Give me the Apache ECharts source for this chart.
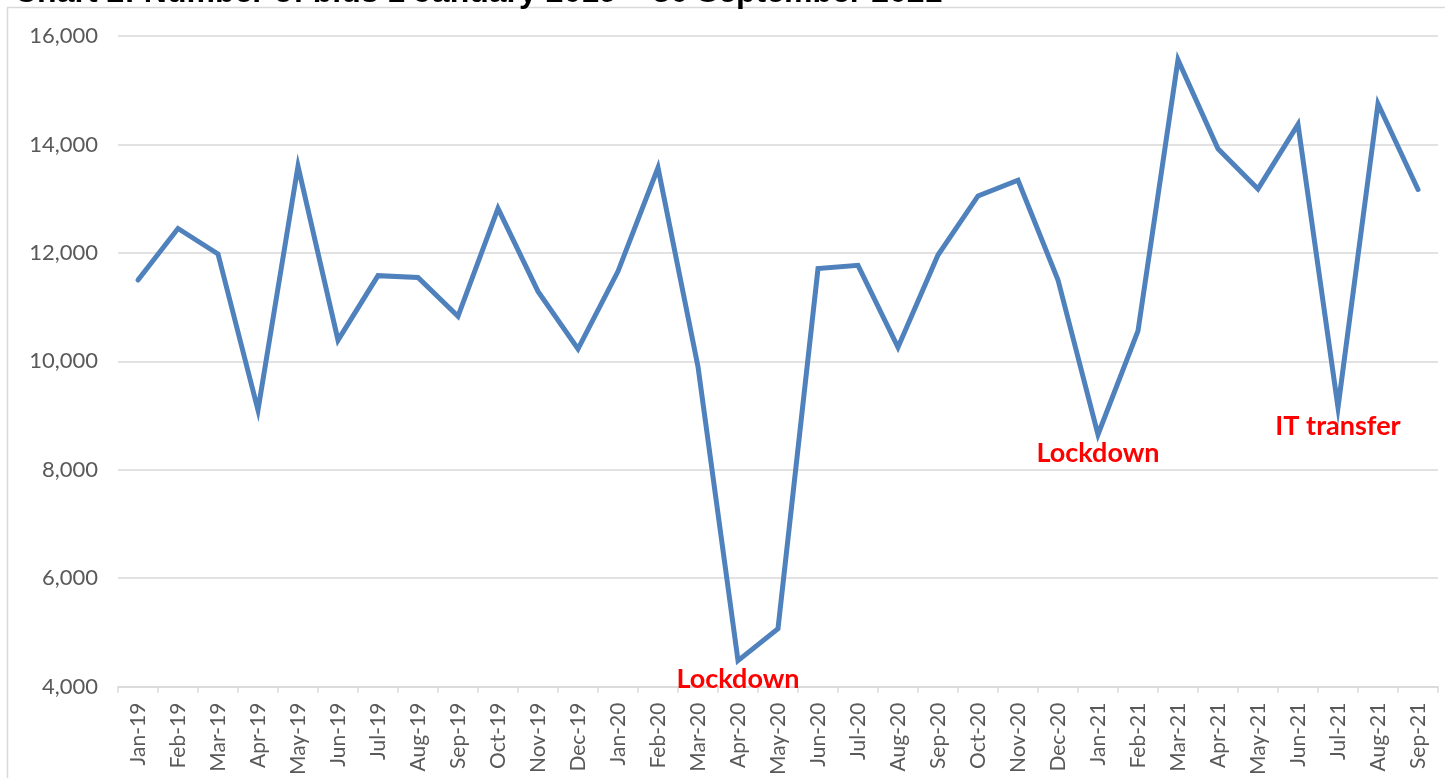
<!DOCTYPE html>
<html>
<head>
<meta charset="utf-8">
<style>
  html, body { margin: 0; padding: 0; background: #fff; }
  #chart { width: 1445px; height: 778px; }
</style>
<script src="https://cdn.jsdelivr.net/npm/echarts@6/dist/echarts.min.js"></script>
</head>
<body>
<div id="chart"></div>
<script>
const months = [
  'Jan-19', 'Feb-19', 'Mar-19', 'Apr-19', 'May-19', 'Jun-19', 'Jul-19', 'Aug-19', 'Sep-19', 'Oct-19', 'Nov-19', 'Dec-19',
  'Jan-20', 'Feb-20', 'Mar-20', 'Apr-20', 'May-20', 'Jun-20', 'Jul-20', 'Aug-20', 'Sep-20', 'Oct-20', 'Nov-20', 'Dec-20',
  'Jan-21', 'Feb-21', 'Mar-21', 'Apr-21', 'May-21', 'Jun-21', 'Jul-21', 'Aug-21', 'Sep-21',
];
const bids = [
  11500, 12450, 11980, 9100, 13600, 10390, 11580, 11545, 10830, 12820, 11290, 10230,
  11660, 13570, 9900, 4480, 5070, 11710, 11770, 10260, 11960, 13050, 13340, 11500,
  8650, 10560, 15560, 13920, 13180, 14370, 9150, 14750, 13170,
];
// annotations: month -> text
const notes = { 'Apr-20': 'Lockdown', 'Jan-21': 'Lockdown', 'Jul-21': 'IT transfer' };
const yTicks = [4000, 6000, 8000, 10000, 12000, 14000, 16000];

const chart = echarts.init(document.getElementById('chart'));

const notePoints = months
  .map((m, i) => ({ m, i }))
  .filter(({ m }) => notes[m])
  .map(({ m, i }) => ({ coord: [m, bids[i]], value: notes[m] }));

chart.setOption({
  animation: false,
  textStyle: { fontFamily: 'Lato' },
  title: {
    text: 'Chart 2: Number of bids 1 January 2019 – 30 September 2021',
    left: 9,
    top: -28,
    textStyle: { fontFamily: 'Liberation Sans', fontWeight: 'bold', fontSize: 32, color: '#000' },
  },
  graphic: [{
    type: 'rect',
    shape: { x: 7.5, y: 7.5, width: 1460, height: 800 },
    style: { fill: 'none', stroke: '#d9d9d9', lineWidth: 1.5 },
    silent: true,
  }],
  grid: { left: 118, right: 7, top: 36, bottom: 90 },
  xAxis: {
    type: 'category',
    data: months,
    boundaryGap: true,
    axisLine: { lineStyle: { color: '#d9d9d9', width: 1.5 } },
    axisTick: { show: true, length: 6, lineStyle: { color: '#d9d9d9', width: 1.5 } },
    axisLabel: { rotate: 90, interval: 0, color: '#595959', fontSize: 21, margin: 16 },
  },
  yAxis: {
    type: 'value',
    min: yTicks[0],
    max: yTicks[yTicks.length - 1],
    interval: 2000,
    axisLine: { show: false },
    axisTick: { show: false },
    splitLine: { lineStyle: { color: '#d9d9d9', width: 1.5 } },
    axisLabel: {
      color: '#595959',
      fontSize: 22,
      margin: 20,
      formatter: (v) => v.toLocaleString('en-US'),
    },
  },
  series: [{
    type: 'line',
    data: bids,
    symbol: 'none',
    lineStyle: { color: '#4f81bd', width: 5, cap: 'round', join: 'miter' },
    itemStyle: { color: '#4f81bd' },
    markPoint: {
      symbol: 'circle',
      symbolSize: 1,
      itemStyle: { color: 'transparent' },
      label: {
        show: true,
        position: 'bottom',
        distance: 5,
        formatter: (p) => p.value,
        color: '#ff0000',
        fontFamily: 'Lato',
        fontWeight: 'bold',
        fontSize: 27,
      },
      data: notePoints,
    },
  }],
});
</script>
</body>
</html>
